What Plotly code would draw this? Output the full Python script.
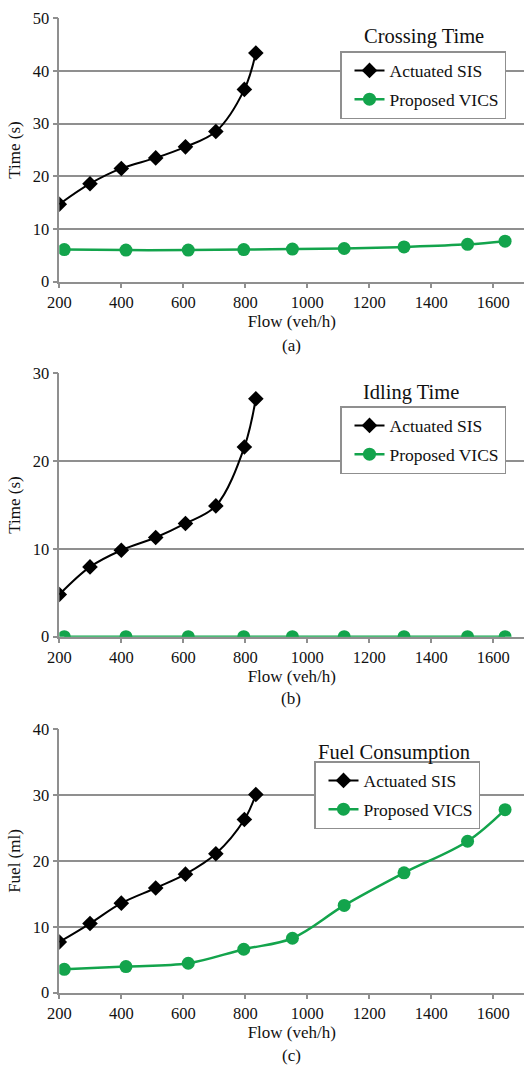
import plotly.graph_objects as go

# ---- data ----
sis_flow_a = [200, 299, 400, 511, 607, 705, 797, 834]
sis_cross = [14.7, 18.6, 21.5, 23.5, 25.6, 28.5, 36.5, 43.4]
vics_flow = [216, 415, 616, 795, 952, 1119, 1312, 1517, 1638]
vics_cross = [6.1, 6.0, 6.0, 6.1, 6.2, 6.3, 6.6, 7.1, 7.7]

sis_idle = [4.8, 7.95, 9.85, 11.3, 12.9, 14.9, 21.6, 27.1]
vics_idle = [0, 0, 0, 0, 0, 0, 0, 0, 0]

sis_fuel = [7.7, 10.5, 13.6, 15.9, 18.0, 21.1, 26.3, 30.1]
vics_fuel = [3.55, 3.96, 4.47, 6.6, 8.27, 13.25, 18.2, 23.0, 27.8]

x_ticks = [200, 400, 600, 800, 1000, 1200, 1400, 1600]
panel_titles = ["Crossing Time", "Idling Time", "Fuel Consumption"]
panel_labels = ["(a)", "(b)", "(c)"]
y_titles = ["Time (s)", "Time (s)", "Fuel (ml)"]
y_max = [50, 30, 40]
y_dtick = [10, 10, 10]
series_names = ["Actuated SIS", "Proposed VICS"]

W, H = 525, 1065
FONT = "Liberation Serif, Times New Roman, serif"
GREEN = "#13a44c"
GRID = "#8f8f8f"
TXT = "#111"

# pixel geometry (top/bottom of plot areas)
plot_tops = [18.3, 373.3, 729.3]
plot_bots = [281.7, 636.7, 992.7]
x_left, x_right = 59.3, 524.3
legend_pos = [(340, 51), (340, 406), (314, 761)]
title_pos = [(362, 37), (361, 392), (316, 752)]
label_y = [345, 698, 1055]

def px(x):
    return x / W

def py(y):
    return 1 - y / H

fig = go.Figure()

sis_data = [sis_cross, sis_idle, sis_fuel]
vics_data = [vics_cross, vics_idle, vics_fuel]

for i in range(3):
    ax = "" if i == 0 else str(i + 1)
    leg = "legend" if i == 0 else f"legend{i + 1}"
    fig.add_trace(go.Scatter(
        x=sis_flow_a, y=sis_data[i], name=series_names[0], mode="lines+markers",
        line=dict(color="black", width=2, shape="spline", smoothing=1),
        marker=dict(symbol="diamond", size=12, color="black"),
        xaxis="x" + ax, yaxis="y" + ax, legend=leg, legendgroup=f"s{i}"))
    fig.add_trace(go.Scatter(
        x=vics_flow, y=vics_data[i], name=series_names[1], mode="lines+markers",
        line=dict(color=GREEN, width=2.5, shape="spline", smoothing=1),
        marker=dict(symbol="circle", size=13, color=GREEN),
        xaxis="x" + ax, yaxis="y" + ax, legend=leg, legendgroup=f"v{i}"))

layout = dict(
    width=W, height=H,
    margin=dict(l=0, r=0, t=0, b=0),
    paper_bgcolor="white", plot_bgcolor="white",
    font=dict(family=FONT, size=16, color=TXT),
    showlegend=True,
)

annotations = []
for i in range(3):
    ax = "" if i == 0 else str(i + 1)
    ydom = [py(plot_bots[i]), py(plot_tops[i])]
    layout["xaxis" + ax] = dict(
        domain=[px(x_left), px(x_right)], range=[200, 1700],
        anchor="y" + ax, tickvals=x_ticks, showgrid=False,
        showline=True, linecolor=GRID, linewidth=1.5,
        ticks="outside", ticklen=5, tickcolor=GRID, tickwidth=1.5,
        tickfont=dict(size=16.5, family=FONT, color=TXT),
        title=dict(text="Flow (veh/h)", font=dict(size=17, family=FONT, color=TXT), standoff=2),
        automargin=False, zeroline=False, fixedrange=True,
    )
    layout["yaxis" + ax] = dict(
        domain=ydom, range=[0, y_max[i]], dtick=y_dtick[i],
        anchor="x" + ax, showgrid=True, gridcolor=GRID, gridwidth=1.5,
        showline=True, linecolor=GRID, linewidth=1.5,
        ticks="outside", ticklen=5, tickcolor=GRID, tickwidth=1.5,
        tickfont=dict(size=16.5, family=FONT, color=TXT),
        title=dict(text=y_titles[i], font=dict(size=17, family=FONT, color=TXT), standoff=8),
        automargin=False, zeroline=False, fixedrange=True,
    )
    leg = "legend" if i == 0 else f"legend{i + 1}"
    lx, ly = legend_pos[i]
    layout[leg] = dict(
        x=px(lx), y=py(ly), xanchor="left", yanchor="top",
        bgcolor="white", bordercolor=GRID, borderwidth=1.5,
        font=dict(size=17.5, family=FONT, color=TXT),
        traceorder="grouped", tracegroupgap=3, indentation=8,
    )
    tx, ty = title_pos[i]
    annotations.append(dict(
        x=px(tx), y=py(ty), xref="paper", yref="paper", xanchor="left", yanchor="middle",
        text=panel_titles[i], showarrow=False,
        font=dict(size=20.5, family=FONT, color=TXT)))
    annotations.append(dict(
        x=px((x_left + x_right) / 2 - 0.5), y=py(label_y[i]), xref="paper", yref="paper",
        xanchor="center", yanchor="middle", text=panel_labels[i], showarrow=False,
        font=dict(size=17, family=FONT, color=TXT)))

layout["annotations"] = annotations
fig.update_layout(**layout)
fig.write_html("out.html", config={"displayModeBar": False},
               post_script="document.body.style.margin='0';document.body.style.overflow='hidden';")
